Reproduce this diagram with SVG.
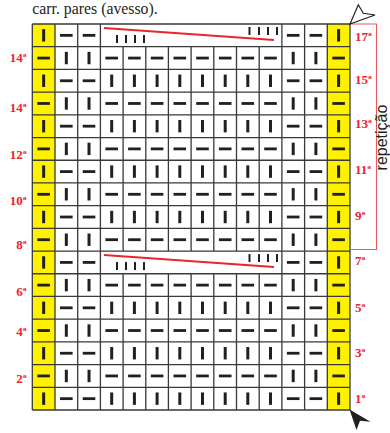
<svg xmlns="http://www.w3.org/2000/svg" xmlns:xlink="http://www.w3.org/1999/xlink" width="390" height="433" viewBox="0 0 390 433">
<style>
.sym{fill:#231f20}
.grid{fill:none;stroke:#3a3a3a;stroke-width:1.3}
.lbl{font-family:"Liberation Serif","Times New Roman",serif;font-weight:bold;font-size:13px;fill:#ec2430}
.lblL{text-anchor:end}
.title{font-family:"Liberation Serif","Times New Roman",serif;font-size:15.8px;fill:#231f20}
.rep{font-family:"Liberation Sans",Arial,sans-serif;font-size:16px;fill:#231f20}
.slash{stroke:#e8262d;stroke-width:2;fill:none}
.bar{fill:#231f20}
</style>
<defs>
<rect id="v" x="-1.5" y="-6.2" width="3" height="12.4"/>
<rect id="h" x="-6.3" y="-1.4" width="12.6" height="2.8"/>
<rect id="b" x="-1" y="-4" width="2" height="8"/>
<g id="even" class="sym">
<use href="#h" x="43.65"/><use href="#v" x="66.33"/><use href="#v" x="89.02"/>
<use href="#h" x="111.7"/><use href="#h" x="134.4"/><use href="#h" x="157.1"/><use href="#h" x="179.8"/>
<use href="#h" x="202.5"/><use href="#h" x="225.2"/><use href="#h" x="247.8"/><use href="#h" x="270.5"/>
<use href="#v" x="293.2"/><use href="#v" x="315.9"/><use href="#h" x="338.6"/>
</g>
<g id="odd" class="sym">
<use href="#v" x="43.65"/><use href="#h" x="66.33"/><use href="#h" x="89.02"/>
<use href="#v" x="111.7"/><use href="#v" x="134.4"/><use href="#v" x="157.1"/><use href="#v" x="179.8"/>
<use href="#v" x="202.5"/><use href="#v" x="225.2"/><use href="#v" x="247.8"/><use href="#v" x="270.5"/>
<use href="#h" x="293.2"/><use href="#h" x="315.9"/><use href="#v" x="338.6"/>
</g>
<g id="merged">
<g class="sym">
<use href="#v" x="43.65"/><use href="#h" x="66.33"/><use href="#h" x="89.02"/>
<use href="#h" x="293.2"/><use href="#h" x="315.9"/><use href="#v" x="338.6"/>
</g>
<line class="slash" x1="104" y1="-7.35" x2="274" y2="4.65"/>
<g class="bar">
<use href="#b" x="117" y="3.65"/><use href="#b" x="126" y="3.65"/><use href="#b" x="135" y="3.65"/><use href="#b" x="144" y="3.65"/>
<use href="#b" x="249.5" y="-4.35"/><use href="#b" x="259" y="-4.35"/><use href="#b" x="268" y="-4.35"/><use href="#b" x="277" y="-4.35"/>
</g>
</g>
</defs>

<rect width="390" height="433" fill="#ffffff"/>

<text class="title" x="32.3" y="14">carr. pares (avesso).</text>

<g id="chart">
<rect x="32.3" y="24" width="22.7" height="386" fill="#fff200"/>
<rect x="327.3" y="24" width="22.7" height="386" fill="#fff200"/>
<path class="grid" d="M32.3,24V410M55,24V410M77.7,24V410M100.4,24V410M281.9,24V410M304.6,24V410M327.3,24V410M350,24V410
M123.1,46.71V251.06M145.8,46.71V251.06M168.4,46.71V251.06M191.1,46.71V251.06M213.8,46.71V251.06M236.5,46.71V251.06M259.2,46.71V251.06
M123.1,273.76V410M145.8,273.76V410M168.4,273.76V410M191.1,273.76V410M213.8,273.76V410M236.5,273.76V410M259.2,273.76V410
M32.3,24H350M32.3,46.71H350M32.3,69.41H350M32.3,92.12H350M32.3,114.82H350M32.3,137.53H350M32.3,160.24H350M32.3,182.94H350M32.3,205.65H350
M32.3,228.35H350M32.3,251.06H350M32.3,273.76H350M32.3,296.47H350M32.3,319.18H350M32.3,341.88H350M32.3,364.59H350M32.3,387.29H350M32.3,410H350"/>
<g id="row17"><use href="#merged" y="35.35"/></g>
<g id="row16"><use href="#even" y="58.06"/></g>
<g id="row15"><use href="#odd" y="80.76"/></g>
<g id="row14"><use href="#even" y="103.47"/></g>
<g id="row13"><use href="#odd" y="126.18"/></g>
<g id="row12"><use href="#even" y="148.88"/></g>
<g id="row11"><use href="#odd" y="171.59"/></g>
<g id="row10"><use href="#even" y="194.29"/></g>
<g id="row9"><use href="#odd" y="217"/></g>
<g id="row8"><use href="#even" y="239.71"/></g>
<g id="row7"><use href="#merged" y="262.41"/></g>
<g id="row6"><use href="#even" y="285.12"/></g>
<g id="row5"><use href="#odd" y="307.82"/></g>
<g id="row4"><use href="#even" y="330.53"/></g>
<g id="row3"><use href="#odd" y="353.24"/></g>
<g id="row2"><use href="#even" y="375.94"/></g>
<g id="row1"><use href="#odd" y="398.65"/></g>
</g>

<g id="labels-left" class="lbl lblL">
<text x="26.7" y="62">14ª</text>
<text x="26.7" y="112">14ª</text>
<text x="26.7" y="159">12ª</text>
<text x="26.7" y="205">10ª</text>
<text x="26.7" y="249">8ª</text>
<text x="26.7" y="296">6ª</text>
<text x="26.7" y="336">4ª</text>
<text x="26.7" y="383">2ª</text>
</g>
<g id="labels-right" class="lbl">
<text x="355" y="41">17ª</text>
<text x="355" y="84">15ª</text>
<text x="355" y="128">13ª</text>
<text x="355" y="174">11ª</text>
<text x="355" y="220">9ª</text>
<text x="355" y="265">7ª</text>
<text x="355" y="312">5ª</text>
<text x="355" y="357">3ª</text>
<text x="355" y="403">1ª</text>
</g>

<g id="repeat">
<path d="M350,24H376.5V249.5H350" fill="none" stroke="#e85a62" stroke-width="1.1"/>
<text class="rep" transform="translate(387,137.5) rotate(-90)" text-anchor="middle">repetição</text>
</g>

<g id="arrows">
<polygon points="350,24 358.3,4.8 363.3,13.3 375,15" fill="#ffffff" stroke="#231f20" stroke-width="1.2" stroke-linejoin="miter"/>
<polygon points="349.5,409.5 370.5,421.7 360,420.8 356.5,430" fill="#231f20"/>
</g>
</svg>
